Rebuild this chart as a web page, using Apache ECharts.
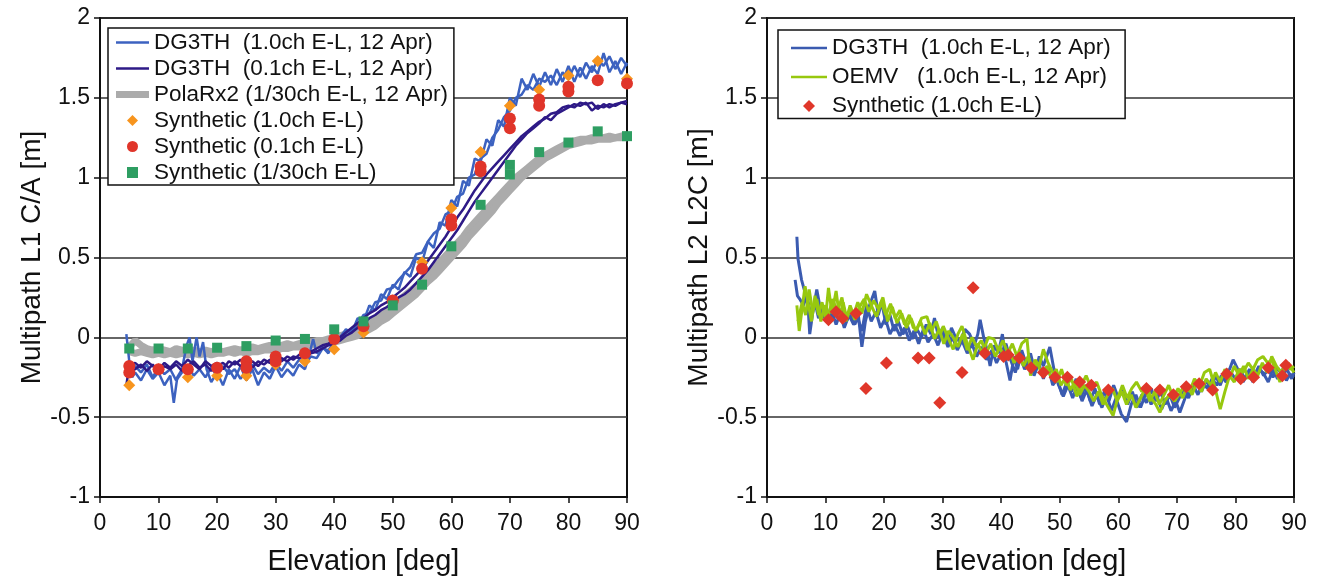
<!DOCTYPE html>
<html>
<head>
<meta charset="utf-8">
<script src="https://cdn.jsdelivr.net/npm/echarts@6/dist/echarts.min.js"></script>
<style>
  html, body { margin: 0; padding: 0; background: #fff; }
  #chart { width: 1320px; height: 579px; }
</style>
</head>
<body>
<div id="chart"></div>
<script>
// ---- left panel: L1 C/A multipath [elevation deg, m] ----
var l1Dg1a = [[4.5,0.02],[5,-0.15],[5.5,-0.25],[6,-0.22],[7,-0.27],[8,-0.2],[9,-0.26],[10,-0.22],[11,-0.3],[12,-0.24],[12.6,-0.41],[13.2,-0.25],[14,-0.2],[14.8,-0.05],[15.3,0],[15.8,-0.15],[16.5,0],[17,-0.12],[17.6,-0.03],[18.2,-0.2],[19,-0.28],[20,-0.22],[21,-0.3],[22,-0.2],[23,-0.26],[24,-0.18],[25,-0.27],[26,-0.2],[27,-0.3],[28,-0.22],[29,-0.26],[30,-0.18],[31,-0.25],[32,-0.2],[33,-0.24],[34,-0.17],[35,-0.2],[35.8,-0.1],[36.4,-0.01],[37,-0.1],[38,-0.06],[39,-0.1],[40,-0.02],[41,0.0],[42,0.05],[43,0.03],[44,0.12],[45,0.1],[46,0.2],[47,0.17],[48,0.27],[49,0.24],[50,0.33],[51,0.3],[52,0.41],[53,0.38],[54,0.5],[55,0.47],[56,0.6],[57,0.56],[58,0.72],[59,0.7],[60,0.86],[61,0.82],[62,0.98],[63,0.95],[64,1.12],[65,1.1],[66,1.24],[67,1.2],[68,1.36],[69,1.32],[70,1.5],[71,1.45],[72,1.62],[73,1.55],[74,1.65],[75,1.57],[76,1.66],[77,1.58],[78,1.68],[79,1.6],[80,1.7],[81,1.6],[82,1.69],[83,1.62],[84,1.7],[85,1.65],[86,1.78],[87,1.66],[88,1.73],[89,1.65],[90,1.72]];
var l1Dg1b = [[5,-0.2],[6,-0.18],[7,-0.22],[8,-0.17],[9,-0.25],[10,-0.19],[11,-0.23],[12,-0.2],[13,-0.27],[14,-0.22],[15,-0.18],[16,-0.24],[17,-0.2],[18,-0.25],[19,-0.19],[20,-0.24],[21,-0.18],[22,-0.23],[23,-0.2],[24,-0.26],[25,-0.21],[26,-0.17],[27,-0.23],[28,-0.19],[29,-0.22],[30,-0.16],[31,-0.21],[32,-0.15],[33,-0.19],[34,-0.14],[35,-0.17],[36,-0.12],[37,-0.13],[38,-0.07],[39,-0.08],[40,-0.03],[41,-0.02],[42,0.03],[43,0.05],[44,0.08],[45,0.14],[46,0.15],[47,0.22],[48,0.23],[49,0.3],[50,0.31],[51,0.36],[52,0.4],[53,0.44],[54,0.52],[55,0.53],[56,0.6],[57,0.65],[58,0.68],[59,0.77],[60,0.79],[61,0.88],[62,0.9],[63,1.0],[64,1.02],[65,1.12],[66,1.15],[67,1.25],[68,1.3],[69,1.38],[70,1.42],[71,1.5],[72,1.52],[73,1.58],[74,1.55],[75,1.62],[76,1.6],[77,1.64],[78,1.58],[79,1.66],[80,1.62],[81,1.7],[82,1.63],[83,1.72],[84,1.66],[85,1.74],[86,1.7],[87,1.76],[88,1.68],[89,1.75],[90,1.7]];
var l1Dg01a = [[4.5,-0.3],[5,-0.18],[6,-0.16],[7,-0.19],[8,-0.15],[9,-0.18],[10,-0.2],[11,-0.16],[12,-0.19],[13,-0.15],[14,-0.18],[15,-0.14],[16,-0.17],[17,-0.2],[18,-0.15],[19,-0.18],[20,-0.16],[21,-0.2],[22,-0.15],[23,-0.17],[24,-0.14],[25,-0.17],[26,-0.15],[27,-0.18],[28,-0.14],[29,-0.16],[30,-0.13],[31,-0.15],[32,-0.12],[33,-0.14],[34,-0.11],[35,-0.1],[36,-0.09],[37,-0.07],[38,-0.05],[39,-0.04],[40,-0.02],[41,0.0],[42,0.03],[43,0.06],[44,0.09],[45,0.12],[46,0.15],[47,0.17],[48,0.2],[49,0.22],[50,0.25],[51,0.28],[52,0.31],[53,0.35],[54,0.39],[55,0.43],[56,0.48],[57,0.53],[58,0.58],[59,0.63],[60,0.69],[61,0.75],[62,0.8],[63,0.86],[64,0.92],[65,0.97],[66,1.02],[67,1.06],[68,1.1],[69,1.14],[70,1.18],[71,1.22],[72,1.26],[73,1.29],[74,1.32],[75,1.35],[76,1.37],[77,1.4],[78,1.41],[79,1.44],[80,1.45],[81,1.44],[82,1.47],[83,1.46],[84,1.47],[85,1.43],[86,1.46],[87,1.44],[88,1.46],[89,1.47],[90,1.48]];
var l1Dg01b = [[5,-0.22],[6,-0.2],[7,-0.17],[8,-0.21],[9,-0.17],[10,-0.22],[11,-0.18],[12,-0.2],[13,-0.17],[14,-0.21],[15,-0.18],[16,-0.15],[17,-0.19],[18,-0.17],[19,-0.21],[20,-0.18],[21,-0.16],[22,-0.19],[23,-0.15],[24,-0.18],[25,-0.16],[26,-0.19],[27,-0.15],[28,-0.17],[29,-0.14],[30,-0.16],[31,-0.13],[32,-0.15],[33,-0.12],[34,-0.13],[35,-0.12],[36,-0.1],[37,-0.09],[38,-0.07],[39,-0.05],[40,-0.04],[41,-0.02],[42,0.01],[43,0.03],[44,0.06],[45,0.09],[46,0.12],[47,0.14],[48,0.17],[49,0.19],[50,0.22],[51,0.25],[52,0.27],[53,0.3],[54,0.34],[55,0.38],[56,0.42],[57,0.47],[58,0.52],[59,0.57],[60,0.62],[61,0.67],[62,0.73],[63,0.79],[64,0.85],[65,0.9],[66,0.95],[67,1.0],[68,1.05],[69,1.1],[70,1.15],[71,1.2],[72,1.24],[73,1.28],[74,1.31],[75,1.34],[76,1.38],[77,1.36],[78,1.4],[79,1.42],[80,1.44],[81,1.46],[82,1.45],[83,1.47],[84,1.42],[85,1.45],[86,1.44],[87,1.46],[88,1.45],[89,1.47],[90,1.46]];
var l1Polaa = [[4.5,-0.05],[5,-0.06],[6,-0.02],[7,-0.05],[8,-0.07],[9,-0.08],[10,-0.07],[11,-0.08],[12,-0.09],[13,-0.07],[14,-0.08],[15,-0.09],[16,-0.08],[17,-0.09],[18,-0.08],[19,-0.09],[20,-0.08],[21,-0.09],[22,-0.08],[23,-0.07],[24,-0.08],[25,-0.07],[26,-0.06],[27,-0.07],[28,-0.06],[29,-0.05],[30,-0.06],[31,-0.05],[32,-0.04],[33,-0.05],[34,-0.04],[35,-0.03],[36,-0.03],[37,-0.02],[38,-0.02],[39,-0.01],[40,0.0],[41,0.01],[42,0.02],[43,0.03],[44,0.05],[45,0.06],[46,0.09],[47,0.11],[48,0.14],[49,0.17],[50,0.2],[51,0.23],[52,0.26],[53,0.29],[54,0.32],[55,0.35],[56,0.39],[57,0.43],[58,0.47],[59,0.51],[60,0.55],[61,0.59],[62,0.63],[63,0.68],[64,0.72],[65,0.76],[66,0.8],[67,0.84],[68,0.88],[69,0.92],[70,0.96],[71,1.0],[72,1.03],[73,1.06],[74,1.09],[75,1.12],[76,1.14],[77,1.16],[78,1.18],[79,1.2],[80,1.22],[81,1.23],[82,1.24],[83,1.24],[84,1.25],[85,1.25],[86,1.25],[87,1.26],[88,1.25],[89,1.26],[90,1.27]];
var l1Polab = [[5,-0.09],[6,-0.1],[7,-0.09],[8,-0.1],[9,-0.11],[10,-0.1],[11,-0.11],[12,-0.1],[13,-0.11],[14,-0.1],[15,-0.11],[16,-0.1],[17,-0.11],[18,-0.1],[19,-0.11],[20,-0.1],[21,-0.1],[22,-0.09],[23,-0.1],[24,-0.09],[25,-0.1],[26,-0.09],[27,-0.09],[28,-0.08],[29,-0.08],[30,-0.08],[31,-0.07],[32,-0.07],[33,-0.06],[34,-0.06],[35,-0.05],[36,-0.05],[37,-0.04],[38,-0.04],[39,-0.03],[40,-0.03],[41,-0.02],[42,-0.01],[43,0.0],[44,0.01],[45,0.03],[46,0.05],[47,0.07],[48,0.1],[49,0.12],[50,0.15],[51,0.18],[52,0.21],[53,0.24],[54,0.27],[55,0.31],[56,0.35],[57,0.38],[58,0.42],[59,0.46],[60,0.5],[61,0.54],[62,0.58],[63,0.63],[64,0.67],[65,0.71],[66,0.75],[67,0.79],[68,0.84],[69,0.88],[70,0.92],[71,0.96],[72,1.0],[73,1.03],[74,1.06],[75,1.09],[76,1.12],[77,1.14],[78,1.16],[79,1.18],[80,1.2],[81,1.21],[82,1.22],[83,1.23],[84,1.23],[85,1.24],[86,1.24],[87,1.24],[88,1.25],[89,1.25],[90,1.25]];
var l1Syn1 = [[5,-0.3],[10,-0.2],[15,-0.25],[20,-0.24],[25,-0.24],[30,-0.17],[35,-0.15],[40,-0.075],[45,0.03],[50,0.23],[55,0.47],[60,0.81],[65,1.16],[70,1.45],[75,1.55],[80,1.64],[85,1.73],[90,1.62]];
var l1Syn01 = [[5,-0.18],[5,-0.22],[10,-0.2],[15,-0.2],[20,-0.19],[25,-0.15],[25,-0.19],[30,-0.12],[30,-0.15],[35,-0.1],[40,-0.01],[45,0.07],[50,0.23],[55,0.43],[60,0.74],[60,0.7],[65,1.07],[65,1.04],[70,1.37],[70,1.31],[75,1.49],[75,1.45],[80,1.57],[80,1.54],[85,1.61],[90,1.59]];
var l1Syn30 = [[5,-0.07],[10,-0.07],[15,-0.07],[20,-0.065],[25,-0.055],[30,-0.02],[35,-0.01],[40,0.05],[45,0.1],[50,0.2],[55,0.33],[60,0.57],[65,0.83],[70,1.08],[70,1.02],[75,1.16],[80,1.22],[85,1.29],[90,1.26]];

// ---- right panel: L2 L2C multipath ----
var l2Dga = [[5.1,0.63],[5.3,0.49],[5.9,0.36],[6.5,0.28],[7,0.2],[7.3,0.02],[7.8,0.15],[8.5,0.3],[9,0.2],[9.6,0.12],[10.2,0.18],[10.8,0.1],[11.5,0.2],[12,0.12],[12.8,0.18],[13.5,0.1],[14.2,0.14],[15,0.08],[15.6,0.14],[16.2,-0.06],[16.8,0.1],[17.5,0.2],[18.4,0.29],[19,0.14],[19.6,0.22],[20.3,0.08],[21,0.14],[21.7,0.04],[22.4,0.1],[23.2,0.02],[24,0.07],[24.8,-0.01],[25.6,0.05],[26.4,0.0],[27.2,0.08],[28,0.02],[28.6,0.12],[29.3,0.0],[30,0.06],[30.8,-0.04],[31.5,0.06],[32.2,0.0],[33,-0.03],[33.8,0.05],[34.6,0.02],[35.4,-0.05],[36,0.02],[36.4,0.11],[37,0.0],[37.6,-0.08],[38.1,-0.18],[38.8,-0.05],[39.5,-0.1],[40.2,0.02],[40.8,-0.15],[41.5,-0.27],[42.2,-0.12],[42.8,-0.2],[43.5,-0.08],[44.2,-0.16],[45,-0.1],[45.8,-0.22],[46.5,-0.12],[47.2,-0.18],[48.3,-0.06],[49,-0.2],[49.8,-0.3],[50.6,-0.37],[51.4,-0.3],[52.2,-0.38],[53,-0.3],[53.8,-0.4],[54.6,-0.33],[55.5,-0.43],[56.3,-0.36],[57.2,-0.44],[58,-0.36],[58.8,-0.46],[59.6,-0.38],[60.5,-0.48],[61.4,-0.53],[62.2,-0.42],[63,-0.36],[63.8,-0.44],[64.8,-0.34],[65.6,-0.42],[66.5,-0.36],[67.4,-0.45],[68.2,-0.38],[69,-0.46],[69.8,-0.4],[70.5,-0.47],[71.4,-0.38],[72.3,-0.33],[73.3,-0.28],[74.2,-0.34],[75,-0.27],[75.8,-0.32],[76.6,-0.24],[77.4,-0.3],[78.2,-0.22],[79,-0.2],[79.6,-0.14],[80.4,-0.2],[81.3,-0.28],[82.2,-0.22],[83,-0.28],[83.8,-0.2],[84.7,-0.22],[85.6,-0.28],[86.4,-0.2],[87.2,-0.26],[88,-0.2],[88.7,-0.27],[89.3,-0.23],[90,-0.25]];
var l2Dgb = [[4.8,0.36],[5.2,0.26],[5.6,0.24],[6.2,0.2],[6.8,0.26],[7.5,0.14],[8.2,0.22],[8.8,0.12],[9.5,0.19],[10.2,0.1],[11,0.17],[11.8,0.08],[12.5,0.15],[13.2,0.06],[14,0.14],[14.8,0.08],[15.5,0.12],[16.2,0.04],[17,0.2],[17.8,0.1],[18.6,0.16],[19.4,0.06],[20.2,0.12],[21,0.02],[21.8,0.08],[22.7,0.01],[23.5,0.06],[24.3,-0.02],[25.1,0.04],[25.9,-0.04],[26.7,0.05],[27.5,-0.03],[28.4,0.02],[29.2,-0.05],[30,0.03],[30.9,-0.06],[31.7,0.0],[32.5,-0.08],[33.3,-0.02],[34.2,-0.1],[35,-0.04],[35.8,-0.12],[36.6,-0.06],[37.5,-0.14],[38.4,-0.08],[39.2,-0.16],[40,-0.1],[40.8,-0.04],[41.6,-0.14],[42.4,-0.22],[43.2,-0.12],[44,-0.2],[44.8,-0.14],[45.6,-0.24],[46.4,-0.16],[47.2,-0.26],[48,-0.18],[48.8,-0.3],[49.6,-0.26],[50.4,-0.36],[51.2,-0.28],[52,-0.34],[52.8,-0.26],[53.6,-0.38],[54.4,-0.3],[55.2,-0.4],[56,-0.32],[56.8,-0.42],[57.6,-0.34],[58.4,-0.4],[59.2,-0.3],[60,-0.38],[60.8,-0.32],[61.6,-0.42],[62.4,-0.34],[63.2,-0.44],[64,-0.36],[64.8,-0.41],[65.6,-0.32],[66.4,-0.4],[67.2,-0.34],[68,-0.42],[68.8,-0.36],[69.6,-0.44],[70.4,-0.38],[71.2,-0.32],[72,-0.38],[72.8,-0.3],[73.6,-0.36],[74.4,-0.28],[75.2,-0.32],[76,-0.26],[76.8,-0.3],[77.6,-0.24],[78.4,-0.28],[79.2,-0.22],[80,-0.26],[80.8,-0.2],[81.6,-0.26],[82.4,-0.2],[83.2,-0.24],[84,-0.18],[84.8,-0.24],[85.6,-0.2],[86.4,-0.25],[87.2,-0.19],[88,-0.24],[88.8,-0.2],[89.6,-0.26],[90,-0.22]];
var l2Oema = [[5.1,0.2],[5.5,0.04],[6,0.18],[6.5,0.32],[7,0.22],[7.6,0.1],[8.2,0.26],[8.8,0.14],[9.4,0.22],[10,0.12],[10.5,0.31],[11.1,0.15],[11.8,0.29],[12.4,0.12],[13,0.22],[13.6,0.12],[14.2,0.2],[14.8,0.14],[15.5,0.22],[16.2,0.15],[17,0.27],[17.8,0.2],[18.7,0.13],[19.5,0.22],[20.3,0.14],[21.1,0.21],[21.9,0.12],[22.7,0.17],[23.5,0.08],[24.3,0.14],[25,0.06],[25.6,0.05],[26.4,0.12],[27.3,0.13],[28.1,0.04],[28.9,0.1],[29.6,0.02],[30.1,0.07],[30.9,0.0],[31.8,-0.075],[32.6,0.02],[33.3,0.07],[34.2,-0.04],[35.2,-0.14],[36,-0.04],[36.8,-0.1],[37.8,0.0],[38.7,-0.01],[39.5,-0.08],[40.3,-0.02],[41.1,-0.1],[41.9,-0.04],[42.7,-0.12],[43.5,-0.04],[44.4,-0.01],[45,-0.24],[45.8,-0.14],[46.5,-0.18],[47.2,-0.075],[48,-0.16],[48.8,-0.22],[49.5,-0.28],[50.3,-0.2],[51.1,-0.3],[52,-0.26],[52.9,-0.37],[53.7,-0.3],[54.5,-0.24],[55.4,-0.32],[56.3,-0.28],[57.1,-0.36],[58,-0.42],[59.1,-0.49],[59.9,-0.38],[60.7,-0.3],[61.5,-0.38],[62.3,-0.32],[63.1,-0.28],[64,-0.34],[64.8,-0.3],[65.6,-0.38],[66.4,-0.42],[67.1,-0.47],[67.9,-0.4],[68.7,-0.36],[69.6,-0.4],[70.5,-0.35],[71.3,-0.3],[72.2,-0.34],[73,-0.26],[73.9,-0.3],[74.7,-0.22],[75.6,-0.2],[76.4,-0.3],[77.4,-0.45],[78.2,-0.34],[79,-0.24],[79.8,-0.28],[80.6,-0.2],[81.3,-0.22],[82.2,-0.16],[83,-0.2],[83.8,-0.14],[84.7,-0.12],[85.5,-0.16],[86.2,-0.14],[87,-0.22],[87.6,-0.28],[88.2,-0.2],[89,-0.16],[90,-0.22]];
var l2Oemb = [[5.3,0.1],[6,0.22],[6.6,0.14],[7.2,0.3],[7.8,0.16],[8.5,0.24],[9.2,0.1],[9.8,0.2],[10.5,0.14],[11.2,0.24],[12,0.16],[12.8,0.25],[13.5,0.1],[14.2,0.18],[15,0.11],[15.8,0.19],[16.6,0.24],[17.4,0.16],[18.2,0.23],[19,0.18],[19.8,0.25],[20.6,0.1],[21.4,0.19],[22.2,0.09],[23,0.15],[23.8,0.06],[24.6,0.12],[25.4,0.04],[26.2,0.1],[27,0.02],[27.8,0.09],[28.6,-0.01],[29.4,0.05],[30.2,-0.04],[31,0.04],[31.8,0.0],[32.6,-0.06],[33.4,0.02],[34.2,-0.08],[35,0.0],[35.8,-0.06],[36.6,-0.02],[37.4,-0.1],[38.2,-0.04],[39,-0.12],[39.8,-0.06],[40.6,-0.14],[41.4,-0.08],[42.2,-0.16],[43,-0.1],[43.8,-0.18],[44.6,-0.12],[45.4,-0.2],[46.2,-0.16],[47,-0.24],[47.8,-0.18],[48.6,-0.26],[49.4,-0.2],[50.2,-0.3],[51,-0.25],[51.8,-0.33],[52.6,-0.28],[53.4,-0.36],[54.2,-0.3],[55,-0.34],[55.8,-0.4],[56.6,-0.34],[57.4,-0.42],[58.2,-0.36],[59,-0.32],[59.8,-0.4],[60.6,-0.34],[61.4,-0.42],[62.2,-0.36],[63,-0.44],[63.8,-0.38],[64.6,-0.32],[65.4,-0.4],[66.2,-0.34],[67,-0.42],[67.8,-0.36],[68.6,-0.3],[69.4,-0.38],[70.2,-0.32],[71,-0.38],[71.8,-0.3],[72.6,-0.36],[73.4,-0.28],[74.2,-0.34],[75,-0.26],[75.8,-0.3],[76.6,-0.22],[77.4,-0.28],[78.2,-0.2],[79,-0.26],[79.8,-0.18],[80.6,-0.24],[81.4,-0.18],[82.2,-0.26],[83,-0.2],[83.8,-0.24],[84.6,-0.16],[85.4,-0.22],[86.2,-0.12],[87,-0.18],[87.8,-0.22],[88.6,-0.16],[89.4,-0.2],[90,-0.18]];
var l2Syn = [[10.5,0.11],[11.8,0.16],[12.9,0.12],[15.2,0.15],[16.9,-0.32],[20.4,-0.16],[25.8,-0.13],[27.7,-0.13],[29.5,-0.41],[33.3,-0.22],[35.2,0.31],[37.2,-0.1],[40.4,-0.12],[41.2,-0.11],[43.1,-0.13],[45.1,-0.19],[47.2,-0.22],[49.2,-0.25],[51.3,-0.25],[53.4,-0.28],[55.4,-0.3],[58.3,-0.33],[64.8,-0.32],[67.1,-0.33],[69.4,-0.36],[71.6,-0.31],[73.8,-0.29],[76.1,-0.33],[78.5,-0.23],[80.9,-0.26],[83.1,-0.25],[85.6,-0.19],[88,-0.24],[88.6,-0.175]];

var FONT = 'Liberation Sans';
var L1_NAMES = ['DG3TH  (1.0ch E-L, 12 Apr)', 'DG3TH  (0.1ch E-L, 12 Apr)', 'PolaRx2 (1/30ch E-L, 12 Apr)',
    'Synthetic (1.0ch E-L)', 'Synthetic (0.1ch E-L)', 'Synthetic (1/30ch E-L)'];
var L2_NAMES = ['DG3TH  (1.0ch E-L, 12 Apr) ', 'OEMV   (1.0ch E-L, 12 Apr)', 'Synthetic (1.0ch E-L) '];

// legend icons (path icons keep their aspect inside the item box)
var ICON_THIN = 'path://M0,0 H33 V2.5 H0 Z';
var ICON_THICK = 'path://M0,0 H33 V7 H0 Z';
var ICON_DIAMOND = 'path://M5,0 L10,5 L5,10 L0,5 Z';
var ICON_SQUARE = 'path://M0,0 H9 V9 H0 Z';

function line(name, data, color, width, idx) {
    return {
        name: name, type: 'line', data: data, xAxisIndex: idx, yAxisIndex: idx,
        symbol: 'none', lineStyle: {color: color, width: width}, itemStyle: {color: color},
        animation: false, z: 2
    };
}

function dots(name, data, color, shape, size, idx) {
    return {
        name: name, type: 'scatter', data: data, xAxisIndex: idx, yAxisIndex: idx,
        symbol: shape, symbolSize: size, itemStyle: {color: color, opacity: 1},
        animation: false, z: 3
    };
}

function xAx(idx) {
    return {
        type: 'value', gridIndex: idx, min: 0, max: 90, interval: 10,
        name: 'Elevation [deg]', nameLocation: 'middle', nameGap: 50,
        nameTextStyle: {fontFamily: FONT, fontSize: 29, color: '#111'},
        axisLine: {onZero: false, lineStyle: {color: '#111', width: 2}},
        axisTick: {show: true, length: 6, lineStyle: {color: '#111', width: 1.5}},
        axisLabel: {fontFamily: FONT, fontSize: 23, color: '#111', margin: 15},
        splitLine: {show: false}
    };
}

function yAx(idx, title) {
    return {
        type: 'value', gridIndex: idx, min: -1, max: 2, interval: 0.5,
        name: title, nameLocation: 'middle', nameGap: 47,
        nameTextStyle: {fontFamily: FONT, fontSize: 28, color: '#111'},
        axisLine: {lineStyle: {color: '#111', width: 2}},
        axisTick: {show: true, length: 6, lineStyle: {color: '#111', width: 1.5}},
        axisLabel: {fontFamily: FONT, fontSize: 23, color: '#111', margin: 10},
        splitLine: {show: true, lineStyle: {color: '#333', width: 1.5}}
    };
}

var chart = echarts.init(document.getElementById('chart'));
chart.setOption({
    backgroundColor: '#fff',
    animation: false,
    grid: [
        {left: 100, top: 18, width: 527, height: 479, show: true, borderColor: '#111', borderWidth: 2, outerBoundsMode: 'none'},
        {left: 767, top: 18, width: 527, height: 479, show: true, borderColor: '#111', borderWidth: 2, outerBoundsMode: 'none'}
    ],
    xAxis: [xAx(0), xAx(1)],
    yAxis: [yAx(0, 'Multipath L1 C/A [m]'), yAx(1, 'Multipath L2 L2C [m]')],
    legend: [
        {
            data: [
                {name: L1_NAMES[0], icon: ICON_THIN},
                {name: L1_NAMES[1], icon: ICON_THIN},
                {name: L1_NAMES[2], icon: ICON_THICK},
                {name: L1_NAMES[3], icon: ICON_DIAMOND},
                {name: L1_NAMES[4], icon: 'circle'},
                {name: L1_NAMES[5], icon: ICON_SQUARE}
            ],
            left: 108, top: 28, orient: 'vertical',
            itemWidth: 33, itemHeight: 11, itemGap: 3,
            padding: [3, 6, 1, 8],
            backgroundColor: '#fff', borderColor: '#111', borderWidth: 1.5,
            textStyle: {fontFamily: FONT, fontSize: 22.5, color: '#111', lineHeight: 20}
        },
        {
            data: [
                {name: L2_NAMES[0], icon: ICON_THIN},
                {name: L2_NAMES[1], icon: ICON_THIN},
                {name: L2_NAMES[2], icon: ICON_DIAMOND}
            ],
            left: 778, top: 30, orient: 'vertical',
            itemWidth: 36, itemHeight: 12, itemGap: 6,
            padding: [6.5, 8, 1, 13],
            backgroundColor: '#fff', borderColor: '#111', borderWidth: 1.5,
            textStyle: {fontFamily: FONT, fontSize: 22.5, color: '#111', lineHeight: 20}
        }
    ],
    series: [
        line(L1_NAMES[2], l1Polaa, '#ababab', 7, 0),
        line(L1_NAMES[2], l1Polab, '#ababab', 7, 0),
        line(L1_NAMES[0], l1Dg1a, '#3c62c0', 2.5, 0),
        line(L1_NAMES[0], l1Dg1b, '#3c62c0', 2.5, 0),
        line(L1_NAMES[1], l1Dg01a, '#2e1a87', 2.5, 0),
        line(L1_NAMES[1], l1Dg01b, '#2e1a87', 2.5, 0),
        dots(L1_NAMES[3], l1Syn1, '#f7941d', 'diamond', 12, 0),
        dots(L1_NAMES[4], l1Syn01, '#e0352a', 'circle', 12, 0),
        dots(L1_NAMES[5], l1Syn30, '#2e9e62', 'rect', 10, 0),
        line(L2_NAMES[0], l2Dga, '#3b5bb0', 3, 1),
        line(L2_NAMES[0], l2Dgb, '#3b5bb0', 3, 1),
        line(L2_NAMES[1], l2Oema, '#97c80f', 3, 1),
        line(L2_NAMES[1], l2Oemb, '#97c80f', 3, 1),
        dots(L2_NAMES[2], l2Syn, '#e0372a', 'diamond', 13, 1)
    ]
});
</script>
</body>
</html>
